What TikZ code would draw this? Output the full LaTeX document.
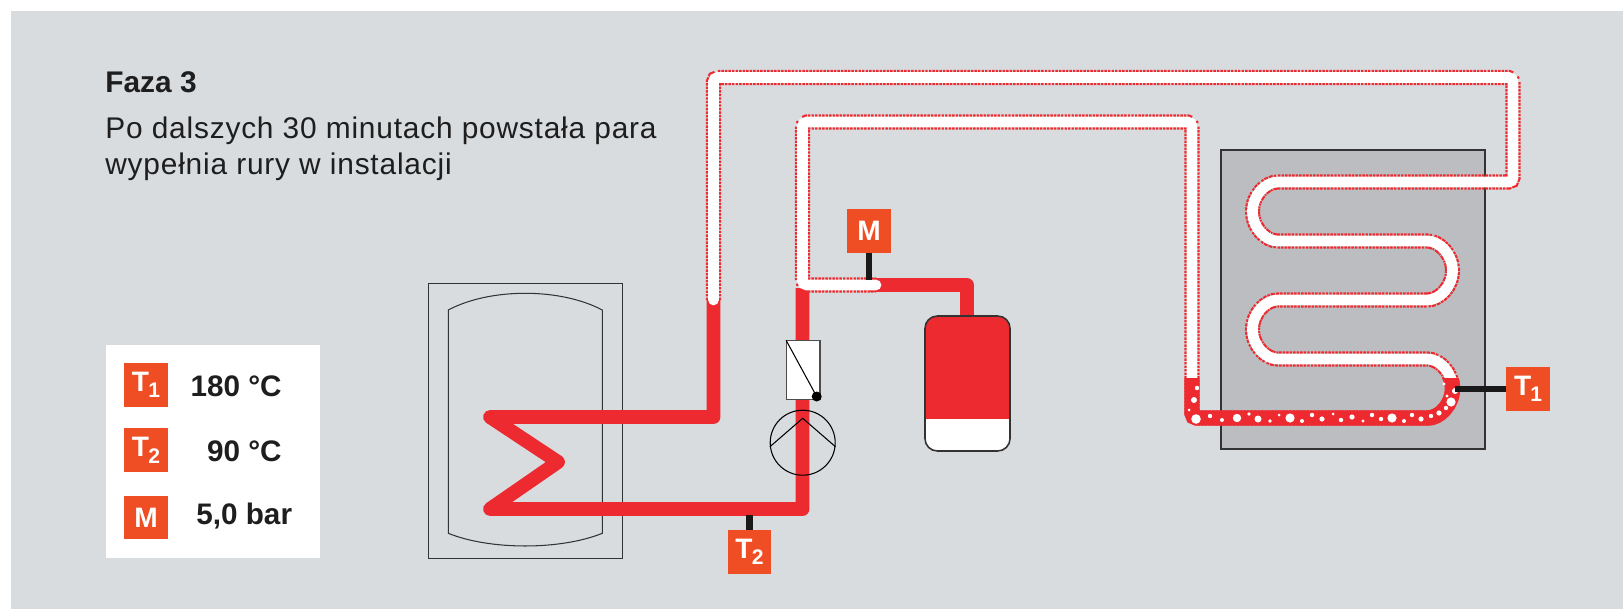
\documentclass[tikz,border=0pt]{standalone}
\usepackage{fontspec}
\setmainfont{Liberation Sans}
\newfontfamily\lsansls[LetterSpace=2.7]{Liberation Sans}
\definecolor{bg}{HTML}{D9DCDF}
\definecolor{pipered}{HTML}{EC2A2F}
\definecolor{badgeor}{HTML}{EF4D23}
\definecolor{collgray}{HTML}{BCBDC1}
\definecolor{boxline}{HTML}{333333}
\definecolor{txt}{HTML}{1E1E1E}
\newcommand{\Tsub}[1]{T\kern-0.5pt\raisebox{-3.6pt}{\fontsize{12}{12}\selectfont #1}}
\tikzset{
  liquid/.style={draw=pipered, line width=7.9pt, line join=round},
  steamedge/.style={draw=pipered, line width=8.6pt, dash pattern=on 1.4pt off 0.6pt, line cap=butt, rounded corners=2.5pt},
  steamcore/.style={draw=white, line width=6.1pt, line cap=round, rounded corners=2.5pt},
  badge/.style={fill=badgeor, text=white, inner sep=0pt, minimum width=24.7pt, minimum height=25pt, font=\fontsize{16}{16}\selectfont\bfseries},
  sensorline/.style={draw=black!90, line width=3.8pt},
  valtext/.style={inner sep=0pt, text=txt, font=\fontsize{16.9}{17}\selectfont\bfseries},
  thinline/.style={draw=boxline, line width=0.9pt}
}
\begin{document}
\begin{tikzpicture}[x=0.02cm,y=-0.02cm]
\useasboundingbox (0,0) rectangle (1623,609);
\fill[bg] (11,11) rectangle (1623,609);

% heading
\node[anchor=base west, inner sep=0pt, text=txt, font=\fontsize{17}{17}\selectfont\bfseries] (title) at (105,92) {Faza 3};
\node[anchor=base west, inner sep=0pt, text=txt, font=\lsansls\fontsize{17}{17}\selectfont] (desc1) at (105,138) {Po dalszych 30 minutach powstała para};
\node[anchor=base west, inner sep=0pt, text=txt, font=\lsansls\fontsize{17}{17}\selectfont] (desc2) at (105,174) {wypełnia rury w instalacji};

% legend
\fill[white] (106,345) rectangle (320,558);
\node[badge] (k1) at (146,385) {\Tsub{1}};
\node[badge] (k2) at (146,450.3) {\Tsub{2}};
\node[badge] (k3) at (146,517.5) {M};
\node[valtext, anchor=base east] (v1) at (282,396) {180 °C};
\node[valtext, anchor=base east] (v2) at (282,461.5) {90 °C};
\node[valtext, anchor=base west] (v3) at (196,524) {5,0 bar};

% storage tank
\draw[thinline] (428.3,283.3) rectangle (622.7,558.3);
\draw[draw=boxline, line width=0.6pt] (448.3,310) -- (448.3,533.3)
  .. controls (490,550.2) and (560.3,550.2) .. (602.3,533.3) -- (602.3,310)
  .. controls (560.3,287.7) and (490,287.7) .. cycle;

% collector
\draw[fill=collgray, draw=boxline, line width=1.1pt] (1221,150) rectangle (1485,449);

% liquid pipes
\draw[liquid] (713.5,300) -- (713.5,417) -- (490,417) -- (558,462) -- (490,509) -- (802.5,509) -- (802.5,288);
\draw[liquid] (870,285) -- (967,285) -- (967,322);

% steam-filled pipes
\def\steamroute{(713.5,300) -- (713.5,77.5) -- (1513,77.5) -- (1513,182) -- (1282,182)
  arc[start angle=-90,end angle=-270,radius=29.5] -- (1423,241)
  arc[start angle=-90,end angle=90,radius=29.5] -- (1282,300)
  arc[start angle=-90,end angle=-270,radius=29.5] -- (1423,359)
  arc[start angle=-90,end angle=90,radius=29.5] -- (1192,418) -- (1192,122)
  -- (802.5,122) -- (802.5,285) -- (876,285)}
\draw[steamedge] \steamroute;
\draw[steamcore] \steamroute;

% liquid with bubbles at collector bottom
\begin{scope}
\clip (1150,378) rectangle (1480,440);
\draw[liquid, line width=8.8pt, rounded corners=3pt] (1192,360) -- (1192,418) -- (1423,418)
  arc[start angle=90,end angle=-90,radius=29.5];
\foreach \bx/\by/\br in {1196/419/4.8, 1194/400/3, 1197/388/2.2, 1189/410/1.5, 1210/416/2.2,
  1222/420/2, 1237/418/4.2, 1249/414/1.8, 1258/419/3.5, 1270/421/1.8, 1279/415/1.5, 1290/418/4.6,
  1302/421/2, 1312/415/2.2, 1322/419/2.6, 1333/414/1.5, 1341/420/2.2, 1352/417/2.6, 1363/421/1.6,
  1372/415/2.2, 1381/419/2.2, 1392/418/4.6, 1404/421/2, 1412/415/2.2, 1421/419/2.6, 1431/416/2.2,
  1439/413/2.6, 1446/408/2.2, 1451/402/4.6, 1455/391/3, 1447/396/1.6, 1444/384/1.6}
  \fill[white] (\bx,\by) circle[radius=\br];
\end{scope}

% expansion vessel
\begin{scope}
\clip[rounded corners=7pt] (925,316) rectangle (1010,451);
\fill[white] (925,316) rectangle (1010,451);
\fill[pipered] (925,316) rectangle (1010,419);
\end{scope}
\node[draw=boxline, line width=0.9pt, rounded corners=7pt, minimum width=48.4pt, minimum height=76.8pt, inner sep=0pt] (vessel) at (967.5,383.5) {};

% pump
\node[circle, draw=black, line width=0.6pt, minimum size=37pt, inner sep=0pt] (pump) at (802.7,442.7) {};
\coordinate (apex) at (802.7,418.3);
\draw[black, line width=0.6pt] (pump.187) -- (apex) -- (pump.353);

% valve
\node[draw=black!70, fill=white, line width=0.6pt, minimum width=19pt, minimum height=33.3pt, inner sep=0pt] (valve) at (803.3,370) {};
\coordinate (vdot) at (816.7,396.5);
\draw[black, line width=0.6pt] (valve.north west) -- (vdot);
\fill[black] (vdot) circle[radius=5];

% sensors
\node[badge] (m) at (869,231) {M};
\coordinate (mtap) at (869,280);
\draw[sensorline] (m.south) -- (mtap);

\node[badge] (t2) at (749.5,552) {\Tsub{2}};
\coordinate (t2tap) at (749.5,515);
\draw[sensorline] (t2tap) -- (t2.north);

\node[badge] (t1) at (1528,389) {\Tsub{1}};
\coordinate (t1tap) at (1455,389);
\draw[sensorline] (t1tap) -- (t1.west);
\end{tikzpicture}
\end{document}
